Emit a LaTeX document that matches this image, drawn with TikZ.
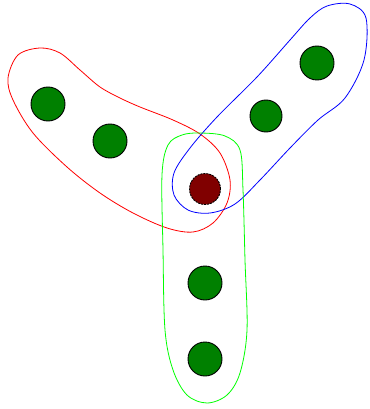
\documentclass[tikz,border=0pt]{standalone}
\begin{document}
\begin{tikzpicture}[x=1pt,y=-1pt,
  vert/.style={circle,draw=black,line width=0.9pt,fill={rgb,255:red,0;green,128;blue,0},minimum size=34pt,inner sep=0pt},
  hub/.style={circle,draw=black,dashed,dash pattern=on 2pt off 1pt,line width=0.9pt,fill={rgb,255:red,128;green,0;blue,0},minimum size=31pt,inner sep=0pt},
  edge/.style={line width=0.8pt}]
\useasboundingbox (0,0) rectangle (369,409);
\draw[edge,red] plot[smooth cycle,tension=0.55] coordinates {(8,78) (18,55) (40,48) (60,53) (80,70) (100,87) (120,98) (140,107) (173,120) (200,134) (220,153) (230,180) (227,203) (213,223) (193,232) (167,228) (133,213) (100,193) (67,167) (33,133) (13,100)};
\draw[edge,blue] plot[smooth cycle,tension=0.55] coordinates {(327,6) (350,4) (366,18) (364,60) (345,98) (318,120) (290,148) (260,180) (235,204) (210,213) (188,210) (174,195) (174,173) (190,148) (217,117) (257,77) (290,40) (310,18)};
\draw[edge,green] plot[smooth cycle,tension=0.55] coordinates {(200,133) (225,136) (240,150) (243,190) (245,260) (247,330) (240,373) (227,395) (207,403) (187,395) (173,370) (165,330) (163,250) (162,175) (168,145) (182,135)};
\node[hub] (c) at (205,189) {};
\node[vert] (a1) at (48,104) {};
\node[vert] (a2) at (110,141) {};
\node[vert,minimum size=32pt] (b1) at (266,116) {};
\node[vert] (b2) at (317,63) {};
\node[vert] (g1) at (205,283) {};
\node[vert] (g2) at (205,359) {};
\end{tikzpicture}
\end{document}
